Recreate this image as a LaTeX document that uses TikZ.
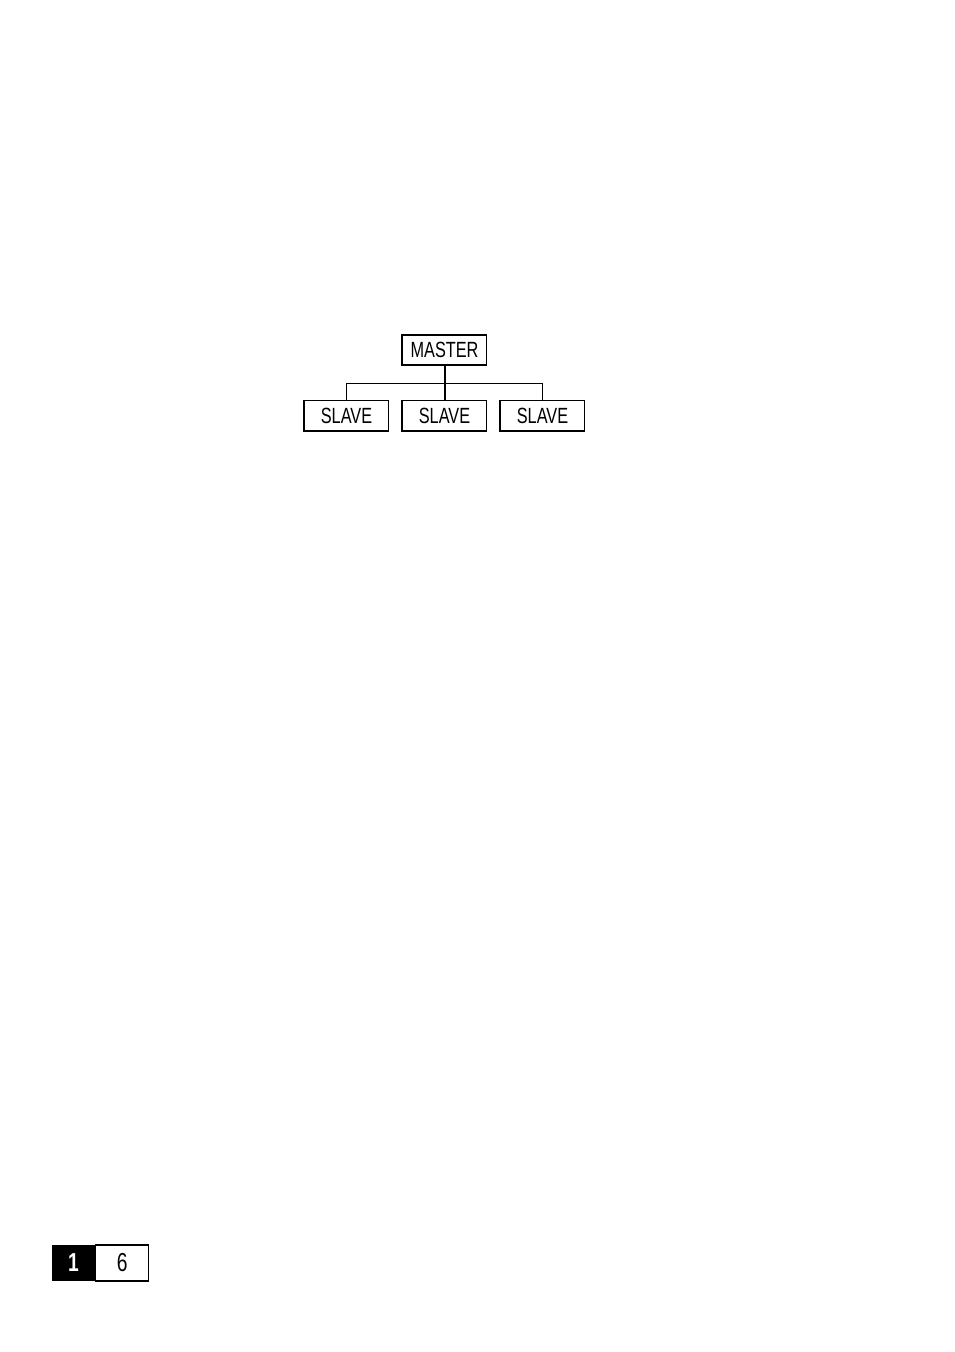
\documentclass[tikz,border=0pt]{standalone}
\usepackage{fontspec}
\setmainfont{Liberation Sans}[FakeStretch=0.74]
\begin{document}
\begin{tikzpicture}[x=1pt,y=-1pt,
  unit/.style={draw=black, line width=1.1pt, minimum width=84pt, minimum height=30pt, inner sep=0pt, font=\fontsize{22}{24}\selectfont},
  thin/.style={line width=1.1pt},
  heavy/.style={line width=2pt}]
\useasboundingbox (0,0) rectangle (954,1352);
\node[unit] (m) at (444.5,350) {MASTER};
\node[unit] (s1) at (346.5,415.5) {SLAVE};
\node[unit] (s2) at (444.5,415.5) {SLAVE};
\node[unit] (s3) at (542.5,415.5) {SLAVE};
\foreach \n in {m,s1,s2,s3}{
  \draw[heavy, line join=miter] ([xshift=0.5pt]\n.north west) -- ([shift={(0.5pt,0.5pt)}]\n.south west) -- ([yshift=0.5pt]\n.south east);
}
\coordinate (j) at (444.5,383.5);
\draw[thin] (s1.north) |- (j) -| (s3.north);
\draw[heavy] (m.south) -- (s2.north);
\node[fill=black, minimum width=43pt, minimum height=36pt, inner sep=0pt, text=white, font=\fontsize{26}{28}\selectfont\bfseries] (p1) at (73.5,1263) {1};
\node[draw=black, line width=1.1pt, minimum width=53pt, minimum height=36pt, inner sep=0pt, font=\fontsize{26}{28}\selectfont, anchor=west] (p6) at (p1.east) {6};
\end{tikzpicture}
\end{document}
